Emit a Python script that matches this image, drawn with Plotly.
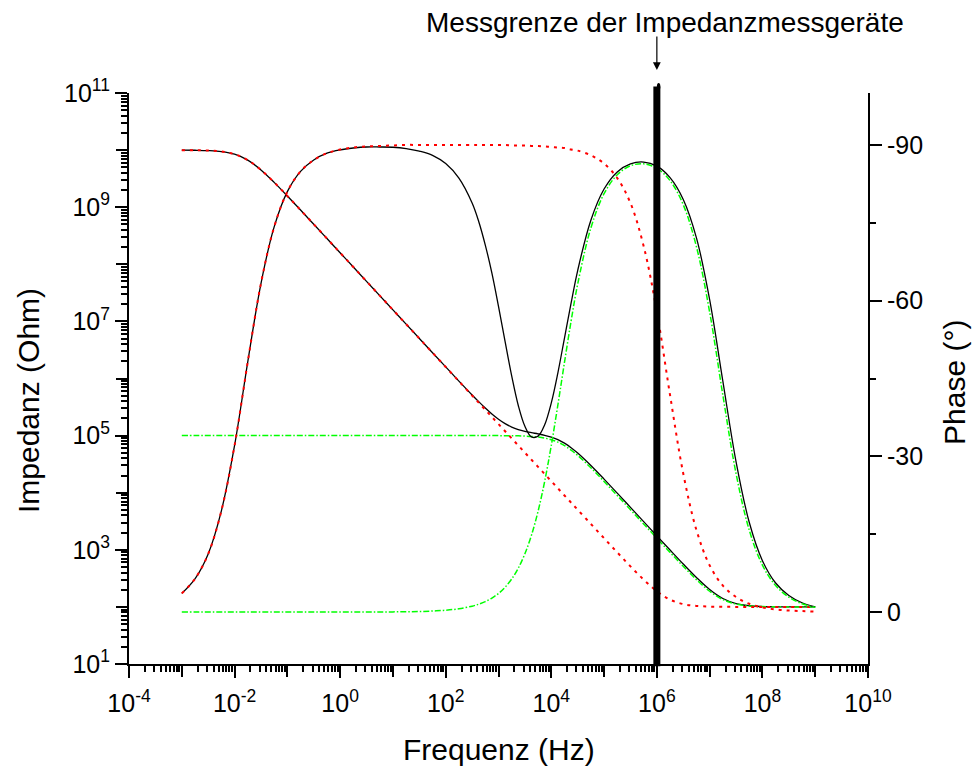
import plotly.graph_objects as go

# Frequency grid (Hz)
freq_hz = [
    0.001, 0.001778, 0.003162, 0.005623,
    0.01, 0.01778, 0.03162, 0.05623,
    0.1, 0.1778, 0.3162, 0.5623,
    1, 1.778, 3.162, 5.623,
    10, 17.78, 31.62, 56.23,
    100, 177.8, 316.2, 421.7, 562.3, 749.9,
    1000, 1334, 1778, 2371, 3162, 4217, 5623, 7499,
    10000, 13335, 17783, 23714, 31623, 56234,
    1e5, 1.778e5, 3.162e5, 5.623e5,
    1e6, 1.778e6, 3.162e6, 5.623e6,
    1e7, 1.778e7, 3.162e7, 5.623e7,
    1e8, 1.778e8, 3.162e8, 5.623e8,
    1e9,
]

# Impedance magnitude (Ohm) of the complete circuit
z_total = [
    9.980e9, 9.938e9, 9.808e9, 9.429e9,
    8.467e9, 6.669e9, 4.496e9, 2.723e9,
    1.572e9, 8.914e8, 5.027e8, 2.829e8,
    1.591e8, 8.950e7, 5.033e7, 2.830e7,
    1.592e7, 8.951e6, 5.034e6, 2.832e6,
    1.595e6, 9.017e5, 5.151e5, 3.930e5, 3.035e5, 2.388e5,
    1.931e5, 1.618e5, 1.410e5, 1.275e5, 1.187e5, 1.125e5, 1.072e5, 1.014e5,
    9.419e4, 8.488e4, 7.366e4, 6.146e4, 4.955e4, 2.999e4,
    1.731e4, 9815, 5535, 3116,
    1755, 990.3, 563.0, 327.2,
    201.7, 140.4, 114.3, 104.8,
    101.5, 100.5, 100.2, 100.05,
    100.02,
]

# Impedance magnitude (Ohm), low-frequency RC element with series resistor
z_low = [
    9.980e9, 9.938e9, 9.808e9, 9.429e9,
    8.467e9, 6.669e9, 4.496e9, 2.723e9,
    1.572e9, 8.914e8, 5.027e8, 2.829e8,
    1.591e8, 8.950e7, 5.033e7, 2.830e7,
    1.592e7, 8.950e6, 5.033e6, 2.830e6,
    1.592e6, 8.950e5, 5.033e5, 3.774e5, 2.830e5, 2.122e5,
    1.592e5, 1.193e5, 8.950e4, 6.712e4, 5.033e4, 3.774e4, 2.830e4, 2.122e4,
    1.592e4, 1.194e4, 8950, 6712, 5034, 2832,
    1595, 900.5, 513.1, 300.2,
    188.0, 134.2, 111.9, 103.9,
    101.3, 100.4, 100.1, 100.0,
    100.0, 100.0, 100.0, 100.0,
    100.0,
]

# Impedance magnitude (Ohm), high-frequency RC element with series resistor
z_high = [
    1.001e5, 1.001e5, 1.001e5, 1.001e5,
    1.001e5, 1.001e5, 1.001e5, 1.001e5,
    1.001e5, 1.001e5, 1.001e5, 1.001e5,
    1.001e5, 1.001e5, 1.001e5, 1.001e5,
    1.001e5, 1.001e5, 1.001e5, 1.001e5,
    1.001e5, 1.0009e5, 1.0008e5, 1.0006e5, 1.0004e5, 9.999e4,
    9.990e4, 9.975e4, 9.948e4, 9.901e4, 9.818e4, 9.676e4, 9.438e4, 9.055e4,
    8.476e4, 7.673e4, 6.676e4, 5.578e4, 4.500e4, 2.726e4,
    1.573e4, 8924, 5032, 2834,
    1596, 901.4, 513.6, 300.4,
    188.1, 134.3, 112.0, 103.9,
    101.3, 100.4, 100.1, 100.0,
    100.0,
]

# Phase (degrees)
phase_total = [
    -3.6, -6.4, -11.2, -19.5,
    -32.1, -48.2, -63.3, -74.2,
    -81.0, -84.9, -87.1, -88.4,
    -89.05, -89.4, -89.6, -89.6,
    -89.55, -89.3, -88.8, -88.0,
    -86.4, -83.6, -78.8, -75.25, -70.7, -65.3,
    -58.9, -52.1, -45.5, -39.8, -35.8, -33.75, -33.9, -36.1,
    -40.3, -46.1, -52.8, -59.5, -65.8, -75.5,
    -81.5, -84.8, -86.35, -86.7,
    -85.9, -83.7, -79.5, -72.1,
    -60.2, -44.5, -29.0, -17.3,
    -9.9, -5.6, -3.2, -1.8,
    -1.0,
]

phase_low = [
    -3.6, -6.4, -11.2, -19.5,
    -32.1, -48.2, -63.3, -74.2,
    -81.0, -84.9, -87.1, -88.4,
    -89.1, -89.5, -89.7, -89.8,
    -89.9, -90.0, -90.0, -90.0,
    -90.0, -90.0, -90.0, -90.0, -90.0, -90.0,
    -90.0, -90.0, -89.9, -89.9, -89.9, -89.8, -89.8, -89.7,
    -89.6, -89.5, -89.4, -89.1, -88.9, -88.0,
    -86.4, -83.6, -78.8, -70.5,
    -57.9, -41.8, -26.7, -15.8,
    -9.0, -5.1, -2.9, -1.6,
    -0.9, -0.5, -0.3, -0.2,
    -0.1,
]

phase_high = [
    0.0, 0.0, 0.0, 0.0,
    0.0, 0.0, 0.0, 0.0,
    0.0, 0.0, 0.0, 0.0,
    0.0, 0.0, 0.0, -0.02,
    -0.04, -0.06, -0.11, -0.20,
    -0.36, -0.64, -1.14, -1.52, -2.02, -2.70,
    -3.59, -4.79, -6.37, -8.47, -11.23, -14.83, -19.44, -25.20,
    -32.11, -39.91, -48.11, -56.04, -63.17, -74.00,
    -80.60, -84.25, -85.98, -86.36,
    -85.50, -83.12, -78.48, -70.39,
    -57.79, -41.80, -26.71, -15.80,
    -9.04, -5.11, -2.88, -1.62,
    -0.91,
]

# Upper frequency limit of the impedance analysers
measurement_limit_hz = 1e6
limit_label = "Messgrenze der Impedanzmessgeräte"

# Tick values and labels (labelled decades, unlabelled decades, minor ticks)
x_label_vals = [1e-4, 1e-2, 1e0, 1e2, 1e4, 1e6, 1e8, 1e10]
x_label_text = ["10<sup>-4</sup>", "10<sup>-2</sup>", "10<sup>0</sup>", "10<sup>2</sup>",
                "10<sup>4</sup>", "10<sup>6</sup>", "10<sup>8</sup>", "10<sup>10</sup>"]
x_plain_decades = [1e-3, 1e-1, 1e1, 1e3, 1e5, 1e7, 1e9]
y_label_vals = [1e1, 1e3, 1e5, 1e7, 1e9, 1e11]
y_label_text = ["10<sup>1</sup>", "10<sup>3</sup>", "10<sup>5</sup>",
                "10<sup>7</sup>", "10<sup>9</sup>", "10<sup>11</sup>"]
y_plain_decades = [1e2, 1e4, 1e6, 1e8, 1e10]
phase_tick_vals = [-90, -60, -30, 0]
phase_tick_text = ["-90", "-60", "-30", "0"]
phase_minor_vals = [-75, -45, -15]

x_minor_vals = [m * 10.0 ** e for e in range(-4, 10) for m in range(2, 10)]
y_minor_vals = [m * 10.0 ** e for e in range(1, 11) for m in range(2, 10)]

FONT = "Liberation Sans, Arial, sans-serif"
BLACK = dict(color="black", width=1.3)
RED = dict(color="#ff0000", width=2, dash="3px,5px")
GREEN = dict(color="#00ff00", width=1.5, dash="6px,2px,1.5px,2px")

fig = go.Figure()
# Impedance curves (the red one sits on an overlaid copy of the impedance axis)
for y, line, xa, ya in [
    (z_total, BLACK, "x", "y"), (z_high, GREEN, "x", "y"), (z_low, RED, "x", "y3"),
]:
    fig.add_trace(go.Scatter(x=freq_hz, y=y, mode="lines", line=dict(shape="spline", **line),
                             xaxis=xa, yaxis=ya, showlegend=False, hoverinfo="skip"))
# Phase curves
for y, line in [(phase_total, BLACK), (phase_high, GREEN), (phase_low, RED)]:
    fig.add_trace(go.Scatter(x=freq_hz, y=y, mode="lines", line=dict(shape="spline", **line),
                             xaxis="x2", yaxis="y2", showlegend=False, hoverinfo="skip"))

tick_style = dict(ticks="outside", ticklen=12, tickwidth=2, tickcolor="black",
                  showgrid=False, zeroline=False)
minor_style = dict(tickmode="array", ticks="outside", ticklen=6, tickwidth=1.5, tickcolor="black")
label_font = dict(family=FONT, size=25, color="black")

fig.update_layout(
    width=974, height=771,
    margin=dict(l=129, r=106, t=93, b=107),
    paper_bgcolor="white", plot_bgcolor="white",
    font=dict(family=FONT, color="black"),
    xaxis=dict(type="log", range=[-4, 10], tickmode="array", tickvals=x_label_vals,
               ticktext=x_label_text, tickfont=label_font, ticklabelstandoff=4,
               showline=True, linecolor="black", linewidth=2,
               minor=dict(tickvals=x_minor_vals, **minor_style), **tick_style),
    xaxis2=dict(type="log", range=[-4, 10], overlaying="x", anchor="y", side="bottom",
                tickmode="array", tickvals=x_plain_decades, showticklabels=False,
                showline=False, **tick_style),
    yaxis=dict(type="log", range=[1, 11], tickmode="array", tickvals=y_label_vals,
               ticktext=y_label_text, tickfont=label_font,
               showline=True, linecolor="black", linewidth=2,
               minor=dict(tickvals=y_minor_vals, **minor_style), **tick_style),
    yaxis3=dict(type="log", range=[1, 11], overlaying="y", anchor="x", side="left",
                tickmode="array", tickvals=y_plain_decades, showticklabels=False,
                showline=False, **tick_style),
    yaxis2=dict(overlaying="y", side="right", anchor="x", range=[10, -100],
                tickmode="array", tickvals=phase_tick_vals, ticktext=phase_tick_text,
                tickfont=label_font, showline=True, linecolor="black", linewidth=2,
                minor=dict(tickvals=phase_minor_vals, **minor_style), **tick_style),
)

# Axis titles
title_font = dict(family=FONT, size=30, color="black")
fig.add_annotation(text="Frequenz (Hz)", xref="paper", yref="paper", x=0.5, y=-0.1506,
                   showarrow=False, font=title_font, xanchor="center", yanchor="middle")
fig.add_annotation(text="Impedanz (Ohm)", xref="paper", yref="paper", x=-0.1367, y=0.4623,
                   textangle=-90, showarrow=False, font=title_font, xanchor="center", yanchor="middle")
fig.add_annotation(text="Phase (°)", xref="paper", yref="paper", x=1.1177, y=0.4939,
                   textangle=-90, showarrow=False, font=title_font, xanchor="center", yanchor="middle")

# Measurement limit: thick vertical bar with a rounded top, label and arrow
bar_top = 1.0114
fig.add_shape(type="line", xref="x", yref="paper",
              x0=measurement_limit_hz, x1=measurement_limit_hz, y0=-0.004, y1=bar_top,
              line=dict(color="black", width=7), layer="above")
fig.add_shape(type="circle", xref="x", yref="paper", xsizemode="pixel", ysizemode="pixel",
              xanchor=measurement_limit_hz, yanchor=bar_top, x0=-3.5, x1=3.5, y0=-3.5, y1=3.5,
              fillcolor="black", line=dict(width=0), layer="above")
fig.add_annotation(text=limit_label, xref="paper", yref="paper", x=0.7253, y=1.1243,
                   showarrow=False, font=dict(family=FONT, size=28, color="black"),
                   xanchor="center", yanchor="middle")
fig.add_annotation(text="", xref="x", yref="paper", x=6, y=1.0403, ax=0, ay=-35,
                   showarrow=True, arrowhead=2, arrowsize=1.3, arrowwidth=1.2, arrowcolor="black")

fig.write_html("out.html")
